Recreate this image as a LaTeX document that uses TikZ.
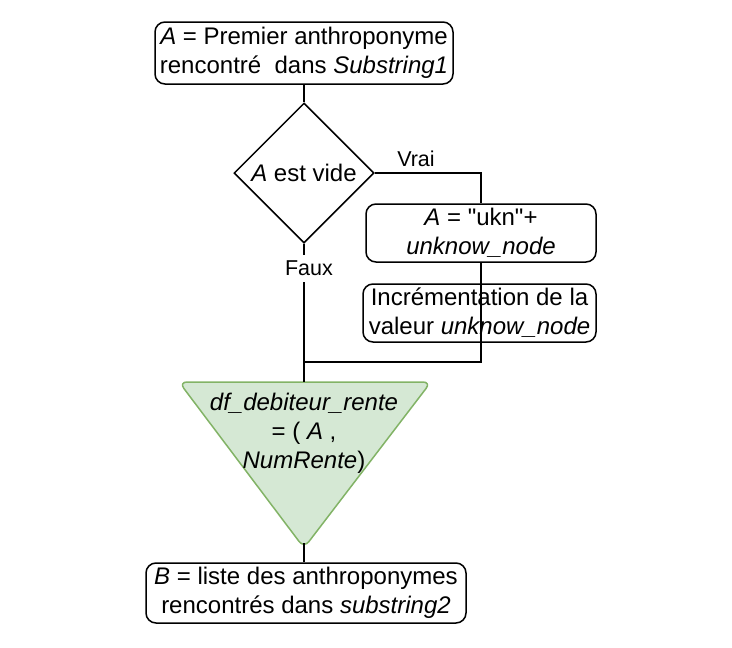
\documentclass[tikz,border=0pt]{standalone}
\usepackage{fontspec}
\setmainfont{Liberation Sans}[Ligatures=TeXOff]
\usetikzlibrary{shapes.geometric}
\begin{document}
\begin{tikzpicture}[x=1pt,y=-1pt,
  every node/.style={font=\fontsize{24}{29}\selectfont},
  rbox/.style={draw,line width=1.5pt,rounded corners=10pt,inner sep=0pt,align=center},
  conn/.style={line width=1.5pt},
  lbl/.style={font=\fontsize{21.5}{26}\selectfont,inner sep=1pt}]
\useasboundingbox (0,0) rectangle (732,648);
\node[rbox,minimum width=298pt,minimum height=62pt] (top) at (304,53)
  {\textit{A} = Premier anthroponyme\\rencontré\ \ dans \textit{Substring1}};
\node[draw,diamond,line width=1.5pt,minimum width=140pt,minimum height=140pt,inner sep=0pt] (dia) at (304,173) {\textit{A} est vide};
\node[rbox,minimum width=230pt,minimum height=58pt] (ukn) at (481,233)
  {\textit{A} = "ukn"+\\\textit{unknow\_node}};
\node[rbox,minimum width=233pt,minimum height=58pt] (inc) at (479.5,313)
  {Incrémentation de la\\valeur \textit{unknow\_node}};
\node[rbox,minimum width=320pt,minimum height=60pt] (bot) at (306,593)
  {\textit{B} = liste des anthroponymes\\rencontrés dans \textit{substring2}};
\coordinate (tritop) at (304,382);
\coordinate (triapex) at (304,543);
\coordinate (vraicorner) at (481,173);
\coordinate (join) at (481,362);
\coordinate (joinleft) at (304,362);
\draw[line width=1.5pt,fill={rgb,255:red,213;green,232;blue,212},draw={rgb,255:red,130;green,179;blue,102},rounded corners=8pt]
  (179,382) -- (431,382) -- (304,548) -- cycle;
\node[align=center] (tritext) at (304,433) {\textit{df\_debiteur\_rente}\\= ( \textit{A} ,\\\textit{NumRente})};
% connectors
\draw[conn] (top.south) -- (dia.north);
\draw[conn] (dia.east) -- (vraicorner) -- (ukn.north);
\draw[conn] (ukn.south) -- (join) -- (joinleft);
\draw[conn] (dia.south) -- (tritop);
\draw[conn] (triapex) -- (triapex |- bot.north);
\node[lbl,fill=white,inner ysep=6pt] (faux) at (309,268) {Faux};
\node[lbl] (vrai) at (416,159) {Vrai};
\end{tikzpicture}
\end{document}
